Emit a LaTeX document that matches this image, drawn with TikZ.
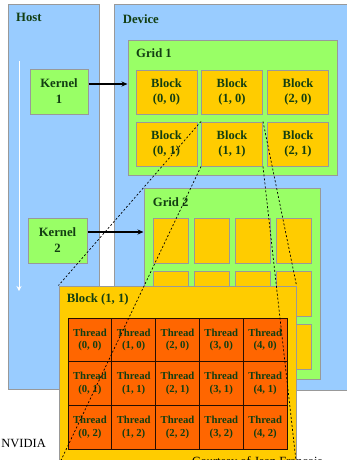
\documentclass[tikz,border=0pt]{standalone}
\usepackage{fontspec}
\setmainfont{Liberation Serif}
\usetikzlibrary{arrows.meta}
\definecolor{hostblue}{RGB}{153,204,255}
\definecolor{gridgreen}{RGB}{153,255,102}
\definecolor{blockyellow}{RGB}{255,204,0}
\definecolor{threadorange}{RGB}{255,102,0}
\definecolor{edgegray}{RGB}{153,153,153}
\definecolor{txtgreen}{RGB}{18,62,18}
\definecolor{threadedge}{RGB}{40,15,0}
\tikzset{
  bigtxt/.style={font=\fontsize{12.7}{15}\selectfont\bfseries, text=txtgreen},
  area/.style={draw=edgegray, line width=1pt, fill=hostblue, inner sep=0pt},
  gridbox/.style={draw=edgegray, line width=1pt, fill=gridgreen, inner sep=0pt},
  kernelbox/.style={draw=edgegray, line width=1pt, fill=gridgreen, inner sep=0pt,
     minimum height=45, align=center, font=\fontsize{12.7}{16}\selectfont\bfseries, text=txtgreen},
  blockbox/.style={draw=edgegray, line width=1pt, fill=blockyellow, inner sep=0pt,
     align=center, font=\fontsize{12.5}{15}\selectfont\bfseries, text=txtgreen},
  threadbox/.style={draw=threadedge, line width=0.9pt, fill=threadorange, inner sep=0pt,
     minimum width=43.8, minimum height=43.67, align=center,
     font=\fontsize{10.7}{12.7}\selectfont\bfseries, text=txtgreen},
  arr/.style={draw=black, line width=1.4pt, -{Stealth[length=6pt,width=5pt]}},
  dashln/.style={draw=black, line width=0.7pt, dash pattern=on 2pt off 2pt},
}
\begin{document}
\begin{tikzpicture}[x=1pt,y=-1pt]
\useasboundingbox (0,0) rectangle (347,460);
\clip (0,0) rectangle (347,460);
% host and device
\node[area, minimum width=91, minimum height=384] (host) at (53.5,197) {};
\node[area, minimum width=246, minimum height=385] (device) at (237,197.5) {};
\node[bigtxt, anchor=base west, inner sep=0pt] (hostlbl) at (16,21.7) {Host};
\node[bigtxt, anchor=base west, inner sep=0pt] (devlbl) at (122.7,23.3) {Device};
% white time arrow
\coordinate (w1) at (19,61);
\coordinate (w2) at (19,291);
\draw[white, line width=1pt, -{Stealth[length=5pt,width=5pt]}] (w1) -- (w2);
% kernels
\node[kernelbox, minimum width=58] (k1) at (59,91.5) {Kernel\\1};
\node[kernelbox, minimum width=59] (k2) at (57.5,240.5) {Kernel\\2};
% grid 1
\node[gridbox, minimum width=209, minimum height=134] (g1) at (232.5,108) {};
\node[bigtxt, anchor=base west, inner sep=0pt] (g1lbl) at (136,57.7) {Grid 1};
\foreach \c/\cx in {0/166.5,1/232,2/298}{
  \foreach \r/\cy in {0/92,1/144}{
    \node[blockbox, minimum width=61, minimum height=44] (b\c\r) at (\cx,\cy) {Block\\(\c, \r)};
  }
}
% grid 2
\node[gridbox, minimum width=176, minimum height=191] (g2) at (232,283.5) {};
\node[bigtxt, anchor=base west, inner sep=0pt] (g2lbl) at (152.7,206) {Grid 2};
\foreach \c/\cx in {0/170.5,1/211.5,2/252.5,3/293.5}{
  \foreach \r/\cy in {0/240.5,1/293.5,2/347}{
    \node[blockbox, minimum width=35, minimum height=45] (gb\c\r) at (\cx,\cy) {};
  }
}
% kernel arrows
\coordinate (a1) at (0,84);
\coordinate (a2) at (0,232);
\draw[arr] (k1.east |- a1) -- (g1.west |- a1);
\draw[arr] (k2.east |- a2) -- (g2.west |- a2);
% expanded block
\node[blockbox, minimum width=237, minimum height=179] (bb) at (177.5,375.5) {};
\node[bigtxt, anchor=base west, inner sep=0pt] (bblbl) at (66.7,302.7) {Block (1, 1)};
\foreach \c in {0,...,4}{
  \foreach \r in {0,1,2}{
    \node[threadbox] (t\c\r) at ({68+21.9+43.8*\c},{318+21.83+43.67*\r}) {Thread\\(\c, \r)};
  }
}
% dashed projection lines
\draw[dashln] (b11.north west) -- (bb.north west);
\draw[dashln] (b11.south west) -- (bb.south west);
\draw[dashln] (b11.north east) -- (bb.north east);
\draw[dashln] (b11.south east) -- (bb.south east);
% credits
\node[anchor=base east, inner sep=0pt, font=\fontsize{12.5}{15}\selectfont] (nv) at (46,447) {NVIDIA};
\node[anchor=base west, inner sep=0pt, font=\fontsize{12.5}{15}\selectfont] (court) at (192,465) {Courtesy of Jean Francois};
\end{tikzpicture}
\end{document}
